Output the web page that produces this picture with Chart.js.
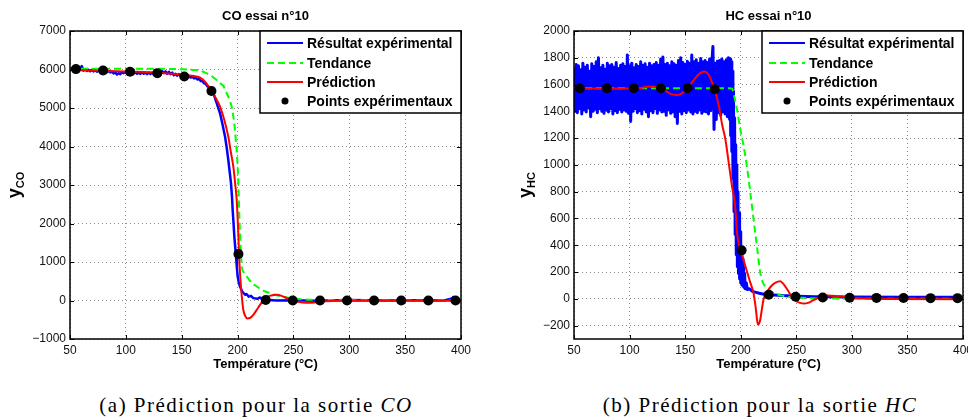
<!DOCTYPE html>
<html>
<head>
<meta charset="utf-8">
<script src="https://cdn.jsdelivr.net/npm/chart.js@4.4.1/dist/chart.umd.min.js"></script>
<style>
html, body { margin: 0; padding: 0; background: #fff; overflow: hidden; }
#wrap { position: relative; width: 968px; height: 417px; overflow: hidden; }
canvas { position: absolute; top: 0; }
#cCO { left: 0; }
#cHC { left: 484px; }
.cap { position: absolute; top: 393px; line-height: 24px; font-family: 'Liberation Serif', 'Times New Roman', serif;
       font-size: 21px; letter-spacing: 1.5px; white-space: nowrap; transform: translateX(-50%); color: #000; }
</style>
</head>
<body>
<div id="wrap">
  <canvas id="cCO" width="484" height="375" style="width:484px;height:375px"></canvas>
  <canvas id="cHC" width="484" height="375" style="width:484px;height:375px"></canvas>
  <div class="cap" style="left:256px">(a) Prédiction pour la sortie <i>CO</i></div>
  <div class="cap" style="left:760px">(b) Prédiction pour la sortie <i>HC</i></div>
</div>
<script>
// ---------- données ----------
// Points expérimentaux (mêmes températures pour CO et HC)
const ptsT   = [55.3, 79.6, 103.8, 128.2, 152.3, 176.6, 200.8, 225.2, 249.4, 273.8, 298, 322.2, 346.5, 370.8, 395.1];
const coPtsY = [6010, 5975, 5940, 5905, 5820, 5440, 1210, 15, 0, 0, 0, 0, 0, 0, 0];
const hcPtsY = [1572, 1572, 1572, 1572, 1572, 1565, 362, 30, 15, 10, 8, 7, 6, 5, 5];

// CO : résultat expérimental
const coExpT = [50, 51.5, 53, 54.5, 56, 57.5, 59, 60.5, 62, 63.5, 65, 66.5, 68, 69.5, 71, 72.5, 74, 75.5, 77, 78.5,
  80, 81.5, 83, 84.5, 86, 87.5, 89, 90.5, 92, 93.5, 95, 96.5, 98, 99.5, 101, 102.5, 104, 105.5, 107, 108.5,
  110, 111.5, 113, 114.5, 116, 117.5, 119, 120.5, 122, 123.5, 125, 126.5, 128, 129.5, 131, 132.5, 134, 135.5, 137, 138.5,
  140, 141.5, 143, 144.5, 146, 147.5, 149, 150.5, 152, 153.5, 155, 156.5, 158, 159.5, 161, 162.5, 164, 165.5, 167, 168.5,
  170, 171.5, 173, 174.5, 176, 177.5, 179, 181, 184.3, 186.5, 188.8, 190.3, 191.7, 193, 194.1, 195, 195.6, 196.4, 197.1, 198.6,
  199.4, 200.1, 201, 202.2, 204, 206.7, 208, 210, 212, 214.1, 218, 220, 223, 228, 235, 250, 270, 300, 330, 360,
  385, 392, 393, 394.5, 396, 400];
const coExpY = [6000, 6030, 5985, 6020, 5990, 6060, 6000, 6090, 5970, 6010, 5965, 5995, 5955, 5990, 5950, 5980, 5945, 5975, 5955, 5985,
  5940, 5975, 5930, 5965, 5925, 5950, 5900, 5930, 5870, 5905, 5880, 5930, 5905, 5945, 5900, 5935, 5890, 5930, 5895, 5925,
  5890, 5920, 5885, 5925, 5890, 5915, 5880, 5920, 5885, 5915, 5875, 5910, 5880, 5930, 5900, 5960, 5910, 5950, 5890, 5940,
  5880, 5920, 5850, 5890, 5840, 5880, 5830, 5865, 5815, 5850, 5800, 5830, 5790, 5815, 5770, 5790, 5740, 5760, 5700, 5700,
  5640, 5630, 5560, 5540, 5470, 5420, 5330, 5150, 4864, 4580, 4256, 3960, 3652, 3330, 3047, 2700, 2354, 2000, 1661, 1142,
  850, 623, 480, 363, 240, 148, 170, 100, 120, 62, 45, 80, 18, 10, 0, 5, -5, 10, 0, 5,
  0, 50, 90, 40, 10, 0];

// CO : tendance
const coTendT = [50, 100, 140, 150, 155, 160, 166.4, 170, 175.3, 181.3, 185, 187.3, 189.5, 191.7, 193.5, 194.7, 196.2, 197.7, 198.6, 199.2,
  200.7, 201.6, 202.9, 203.8, 205.5, 208.2, 212, 217.2, 222, 229, 237, 247, 258, 270.8, 290, 320, 400];
const coTendY = [6020, 6020, 6015, 6005, 6000, 5990, 5975, 5930, 5858, 5728, 5630, 5574, 5430, 5295, 5150, 5035, 4775, 4430, 4085, 3910,
  3055, 2180, 1316, 882, 730, 623, 480, 363, 270, 192, 120, 62, 32, 18, 8, 3, 0];

// CO : prédiction
const coPredT = [50, 77, 107, 128, 145, 151, 157, 161, 164, 166.4, 170, 175.3, 180, 184.3, 188, 191.7, 194, 196.2, 197.8, 199.2,
  200.7, 201.3, 202.1, 202.8, 203.8, 205.1, 206.8, 208.7, 211, 214.1, 217, 220.1, 223, 226.1, 230, 235, 240, 244, 248, 252.9,
  258, 265, 270, 274, 286, 300, 400];
const coPredY = [5990, 5970, 5943, 5918, 5880, 5857, 5845, 5830, 5815, 5790, 5710, 5513, 5280, 5035, 4700, 4256, 3850, 3478, 3050, 2613,
  1700, 1210, 750, 452, 100, -241, -400, -465, -455, -371, -250, -112, 0, 88, 130, 148, 115, 62, 17, -26,
  -52, -60, -45, -26, -9, -5, -5];

// HC : résultat expérimental (signal très bruité avant l'amorçage)
const hcExpT = [50, 51, 52, 53, 54, 55, 56, 57, 58, 59, 60, 61, 62, 63, 64, 65, 66, 67, 68, 69,
  70, 71, 72, 73, 74, 75, 76, 77, 78, 79, 80, 81, 82, 83, 84, 85, 86, 87, 88, 89,
  90, 91, 92, 93, 94, 95, 96, 97, 98, 99, 100, 101, 102, 103, 104, 105, 106, 107, 108, 109,
  110, 111, 112, 113, 114, 115, 116, 117, 118, 119, 120, 121, 122, 123, 124, 125, 126, 127, 128, 129,
  130, 131, 132, 133, 134, 135, 136, 137, 138, 139, 140, 141, 142, 143, 144, 145, 146, 147, 148, 149,
  150, 151, 152, 153, 154, 155, 156, 157, 158, 159, 160, 161, 162, 163, 164, 165, 166, 167, 168, 169,
  170, 171, 172, 173, 174, 175, 176, 177, 178, 179, 180, 181, 182, 183, 184, 185, 186, 187, 188, 189, 190,
  190.5, 191, 191.5, 192, 192.5, 193, 193.5, 194, 194.5, 195, 195.5, 196, 196.5, 197, 197.5, 198, 198.5, 199, 199.5, 200,
  200.5, 201, 201.5, 202, 202.5, 203, 203.5, 204,
  205, 206, 208, 210, 213, 216.7, 222, 230, 237.5, 250, 267, 300, 350, 400];
const hcExpY = [1720, 1400, 1750, 1390, 1740, 1420, 1710, 1380, 1760, 1410, 1730, 1395, 1745, 1425, 1700, 1360, 1755, 1400, 1735, 1415,
  1770, 1390, 1800, 1420, 1725, 1400, 1745, 1385, 1715, 1410, 1760, 1395, 1740, 1420, 1750, 1380, 1730, 1405, 1765, 1390,
  1720, 1415, 1745, 1395, 1755, 1410, 1735, 1400, 1820, 1385, 1740, 1325, 1760, 1400, 1725, 1420, 1750, 1390, 1735, 1405,
  1770, 1380, 1745, 1415, 1755, 1395, 1730, 1360, 1760, 1405, 1740, 1390, 1750, 1420, 1765, 1385, 1745, 1410, 1790, 1395,
  1805, 1400, 1750, 1370, 1760, 1410, 1740, 1385, 1770, 1395, 1755, 1360, 1745, 1310, 1780, 1400, 1800, 1380, 1765, 1405,
  1750, 1390, 1775, 1410, 1760, 1395, 1820, 1380, 1770, 1400, 1785, 1390, 1760, 1410, 1795, 1385, 1770, 1400, 1780, 1395,
  1765, 1380, 1790, 1405, 1760, 1885, 1265, 1760, 1340, 1775, 1390, 1780, 1370, 1790, 1395, 1770, 1380, 1785, 1360, 1800, 1340,
  1790, 1220, 1770, 1100, 1700, 900, 1550, 650, 1350, 480, 1150, 330, 1000, 240, 800, 190, 640, 150, 500, 120,
  380, 105, 300, 95, 240, 85, 190, 75,
  120, 70, 75, 58, 50, 42, 33, 28, 24, 20, 16, 14, 12, 11];

// HC : tendance
const hcTendT = [50, 190, 192.2, 194.5, 196.7, 199.7, 202.7, 205.6, 208.7, 211.6, 214.6, 217.6, 220, 222.1, 229.5, 239.9, 257.8, 280, 400];
const hcTendY = [1572, 1572, 1570, 1500, 1411, 1262, 1138, 988, 790, 591, 392, 194, 120, 94, 45, 20, 7, 2, 0];

// HC : prédiction
const hcPredT = [50, 100, 110, 118, 125, 131, 137, 142, 147, 152, 157, 162, 167, 171, 174, 176.5, 178.3, 180.4, 183.3, 186.3,
  189.3, 192.2, 194.3, 195.5, 196.7, 198, 199.7, 201.5, 204.2, 206.5, 208.7, 210.5, 211.6, 212.7, 213.7, 214.6, 215.5, 216.5, 217.6, 219,
  220.5, 222.5, 225, 228, 231, 235.4, 238, 239.9, 243, 245.8, 249, 253.3, 257, 260.7, 265, 269.6, 274, 278.6, 287.5, 296.4,
  310, 330, 400];
const hcPredY = [1570, 1570, 1575, 1585, 1580, 1560, 1530, 1522, 1535, 1572, 1625, 1675, 1697, 1675, 1620, 1565, 1510, 1436, 1300, 1187,
  1010, 839, 740, 640, 492, 420, 367, 320, 243, 180, 119, 75, 40, -20, -80, -150, -192, -185, -154, -80,
  -5, 35, 69, 100, 119, 131, 115, 94, 55, 19, -10, -30, -35, -30, -12, 7, 20, 25, 19, 10,
  2, -2, -3];

const xTicksStep = 50;
const legendLabels = ['Résultat expérimental', 'Tendance', 'Prédiction', 'Points expérimentaux'];

// ---------- rendu ----------
const FONT = "'Liberation Sans', Arial, Helvetica, sans-serif";
Chart.defaults.font.family = FONT;
Chart.defaults.color = '#000';

const pairs = (t, v) => t.map((x, i) => ({ x, y: v[i] }));

function datasets(expT, expY, tendT, tendY, predT, predY, ptsY, expWidth) {
  return [
    { label: legendLabels[3], data: pairs(ptsT, ptsY), showLine: false, pointRadius: 5,
      pointBackgroundColor: '#000', pointBorderColor: '#000', pointBorderWidth: 0, order: 0 },
    { label: legendLabels[2], data: pairs(predT, predY), borderColor: '#ff0000', borderWidth: 2,
      pointRadius: 0, cubicInterpolationMode: 'monotone', order: 1 },
    { label: legendLabels[1], data: pairs(tendT, tendY), borderColor: '#00ff00', borderWidth: 2, borderDash: [7, 4],
      pointRadius: 0, cubicInterpolationMode: 'monotone', order: 2 },
    // jointures arrondies : sinon le zigzag du bruit laisse des trous blancs
    { label: legendLabels[0], data: pairs(expT, expY), borderColor: '#0000ff', borderWidth: expWidth,
      borderJoinStyle: 'round', borderCapStyle: 'round', pointRadius: 0, order: 3 }
  ];
}

const matlabLook = {
  id: 'matlabLook',
  afterDatasetsDraw(chart, args, o) {
    const { ctx, chartArea: a, scales: { x, y } } = chart;
    ctx.save();
    // petites graduations vers l'intérieur, sur les 4 côtés
    ctx.strokeStyle = '#000';
    ctx.lineWidth = 1;
    ctx.beginPath();
    x.ticks.forEach(t => {
      const p = Math.round(x.getPixelForValue(t.value)) + 0.5;
      ctx.moveTo(p, a.bottom); ctx.lineTo(p, a.bottom - 4);
      ctx.moveTo(p, a.top); ctx.lineTo(p, a.top + 4);
    });
    y.ticks.forEach(t => {
      const p = Math.round(y.getPixelForValue(t.value)) + 0.5;
      ctx.moveTo(a.left, p); ctx.lineTo(a.left + 4, p);
      ctx.moveTo(a.right, p); ctx.lineTo(a.right - 4, p);
    });
    ctx.stroke();
    ctx.lineWidth = 1.5;
    ctx.strokeRect(a.left, a.top, a.right - a.left, a.bottom - a.top);

    // légende encadrée en haut à droite
    const w = 201, h = 82, L = a.right - w, T = a.top;
    ctx.fillStyle = '#fff';
    ctx.fillRect(L, T, w, h);
    ctx.strokeRect(L, T, w, h);
    const rows = [12, 32, 51, 70];
    const order = [3, 2, 1, 0]; // index des jeux de données dans l'ordre de la légende
    ctx.font = 'bold 14px ' + FONT;
    ctx.textBaseline = 'middle';
    ctx.textAlign = 'left';
    order.forEach((di, k) => {
      const ds = chart.data.datasets[di];
      const yy = T + rows[k];
      if (ds.showLine === false) {
        ctx.fillStyle = '#000';
        ctx.beginPath();
        ctx.arc(L + 25, yy, 3.5, 0, Math.PI * 2);
        ctx.fill();
      } else {
        ctx.strokeStyle = ds.borderColor;
        ctx.lineWidth = 2;
        ctx.setLineDash(ds.borderDash || []);
        ctx.beginPath();
        ctx.moveTo(L + 7, yy); ctx.lineTo(L + 43, yy);
        ctx.stroke();
        ctx.setLineDash([]);
      }
      ctx.fillStyle = '#000';
      ctx.fillText(ds.label, L + 47, yy + 1);
    });
    ctx.restore();
  },
  afterDraw(chart, args, o) {
    const { ctx, chartArea: a } = chart;
    ctx.save();
    ctx.fillStyle = '#000';
    ctx.font = 'bold 13px ' + FONT;
    ctx.textAlign = 'center';
    ctx.textBaseline = 'middle';
    ctx.fillText(o.title, (a.left + a.right) / 2, 16);
    // y avec indice, écrit verticalement
    const cy = (a.top + a.bottom) / 2;
    ctx.translate(o.yLabelX, cy);
    ctx.rotate(-Math.PI / 2);
    ctx.textAlign = 'left';
    ctx.textBaseline = 'alphabetic';
    ctx.font = 'bold 18px ' + FONT;
    const w1 = ctx.measureText('y').width;
    ctx.font = 'bold 11px ' + FONT;
    const w2 = ctx.measureText(o.sub).width;
    const u = -(w1 + w2) / 2;
    ctx.font = 'bold 18px ' + FONT;
    ctx.fillText('y', u, 0);
    ctx.font = 'bold 11px ' + FONT;
    ctx.fillText(o.sub, u + w1, 4);
    ctx.restore();
  }
};

const minus = v => String(v).replace('-', '\u2212');

function makeChart(id, data, yMin, yMax, yStep, yWidth, padRight, title, sub, yLabelX) {
  return new Chart(document.getElementById(id), {
    type: 'line',
    data: { datasets: data },
    plugins: [matlabLook],
    options: {
      responsive: false,
      animation: false,
      devicePixelRatio: 1,
      events: [],
      layout: { padding: { left: 0, top: 31, right: padRight, bottom: 0 } },
      plugins: {
        legend: { display: false },
        tooltip: { enabled: false },
        matlabLook: { title, sub, yLabelX }
      },
      scales: {
        x: {
          type: 'linear', min: 50, max: 400,
          ticks: { stepSize: xTicksStep, padding: 4, font: { size: 12 }, color: '#111', maxRotation: 0 },
          grid: { color: 'rgba(0,0,0,0.45)', lineWidth: 1, drawTicks: false },
          border: { display: false, dash: [1, 3] },
          title: { display: true, text: 'Température (°C)', font: { size: 13, weight: 'bold' }, padding: { top: 2, bottom: 3 }, color: '#000' },
          afterFit: s => { s.height = 36; s.paddingLeft = 0; s.paddingRight = 0; }
        },
        y: {
          min: yMin, max: yMax,
          ticks: { stepSize: yStep, padding: 4, font: { size: 12 }, color: '#111', includeBounds: false, callback: minus },
          grid: { color: 'rgba(0,0,0,0.45)', lineWidth: 1, drawTicks: false },
          border: { display: false, dash: [1, 3] },
          afterFit: s => { s.width = yWidth; s.paddingTop = 0; s.paddingBottom = 0; }
        }
      }
    }
  });
}

makeChart('cCO', datasets(coExpT, coExpY, coTendT, coTendY, coPredT, coPredY, coPtsY, 2.5),
  -1000, 7000, 1000, 70, 23, 'CO essai n°10', 'CO', 19.5);
makeChart('cHC', datasets(hcExpT, hcExpY, hcTendT, hcTendY, hcPredT, hcPredY, hcPtsY, 3),
  -300, 2000, 200, 90, 2, 'HC essai n°10', 'HC', 46.5);
</script>
</body>
</html>
